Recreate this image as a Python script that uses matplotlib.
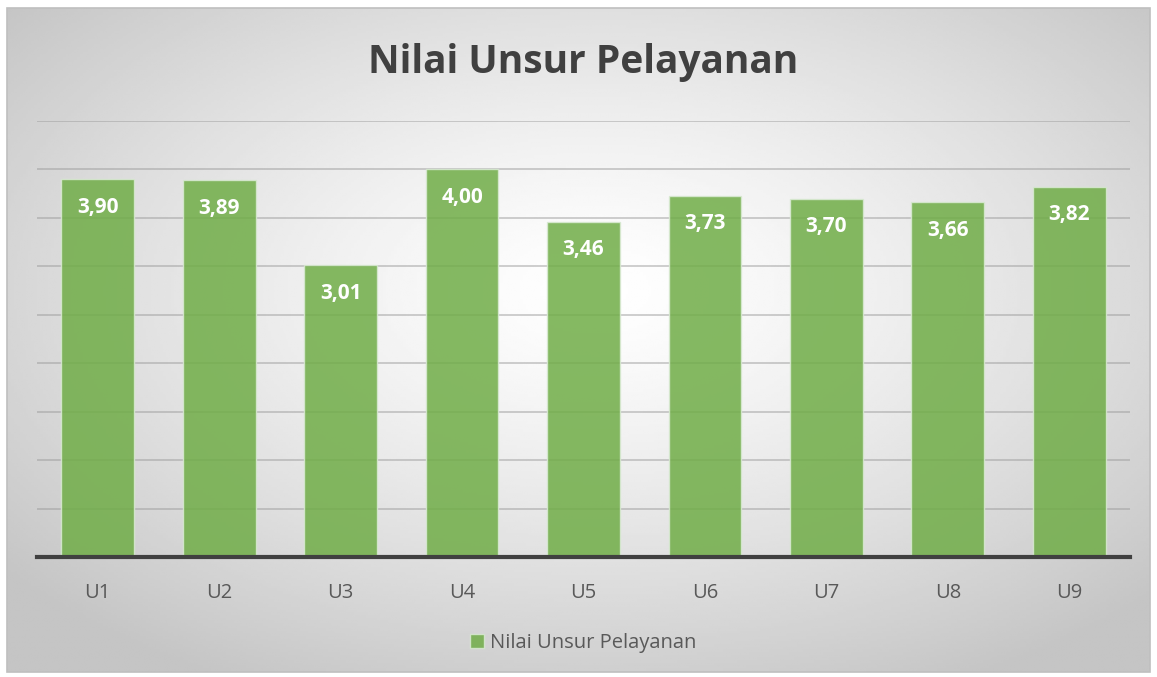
import numpy as np
import matplotlib
matplotlib.use("Agg")
import matplotlib.pyplot as plt
from matplotlib.patches import Rectangle

# data
categories = ["U1", "U2", "U3", "U4", "U5", "U6", "U7", "U8", "U9"]
values = [3.90, 3.89, 3.01, 4.00, 3.46, 3.73, 3.70, 3.66, 3.82]
series_name = "Nilai Unsur Pelayanan"

plt.rcParams["font.family"] = ["Open Sans", "DejaVu Sans"]

W, H = 1157, 677
fig = plt.figure(figsize=(W / 100, H / 100), dpi=100)
fig.patch.set_facecolor("white")

# radial gradient background inside the chart frame
x0, y0, x1, y1 = 7, 8, 1150, 672
bg = fig.add_axes([x0 / W, 1 - y1 / H, (x1 - x0) / W, (y1 - y0) / H], zorder=0)
gx, gy = np.meshgrid(np.linspace(-1, 1, 400), np.linspace(-1, 1, 250))
r = np.sqrt(((gx - 0.03) / 1.0) ** 2 + ((gy + 0.15) / 1.0) ** 2)
r = np.clip(r / 1.35, 0, 1)
shade = 1.0 - 0.23 * r ** 1.3
bg.imshow(shade, cmap="gray", vmin=0, vmax=1, aspect="auto", extent=[0, 1, 0, 1])
bg.set_axis_off()
fig.add_artist(Rectangle((x0 / W, 1 - y1 / H), (x1 - x0) / W, (y1 - y0) / H,
                         transform=fig.transFigure, fill=False,
                         edgecolor="#bfbfbf", linewidth=1.2, zorder=5))

ax = fig.add_axes([37 / W, 1 - 557 / H, (1130 - 37) / W, (557 - 121) / H], zorder=1)
ax.patch.set_alpha(0)

x = np.arange(len(categories))
bars = ax.bar(x, values, width=0.6, color="#70ad47", alpha=0.85,
              edgecolor="#d9ead3", linewidth=1.0, zorder=2, label=series_name)

for b, v in zip(bars, values):
    ax.text(b.get_x() + b.get_width() / 2, v - 0.29, f"{v:.2f}".replace(".", ","),
            ha="center", va="center", color="white", fontsize=15,
            fontweight="bold", zorder=3)

ax.set_xlim(-0.5, len(categories) - 0.5)
ax.set_ylim(0, 4.5)
ax.set_yticks(np.arange(0.5, 4.51, 0.5))
ax.yaxis.grid(True, color="#9a9a9a", alpha=0.6, linewidth=1.1, zorder=1)
ax.set_axisbelow(True)
ax.tick_params(axis="y", left=False, labelleft=False)
ax.set_xticks(x)
ax.set_xticklabels(categories, fontsize=14.5, color="#595959")
ax.tick_params(axis="x", length=0, pad=19)
for s in ["top", "right", "left"]:
    ax.spines[s].set_visible(False)
ax.spines["bottom"].set_color("#404040")
ax.spines["bottom"].set_linewidth(3)
ax.spines["bottom"].set_zorder(4)

fig.text(0.504, 1 - 62 / H, "Nilai Unsur Pelayanan", ha="center", va="center",
         fontsize=28, fontweight="bold", color="#404040")

fig.legend(handles=[bars], labels=[series_name], loc="center",
           bbox_to_anchor=(0.504, 1 - 643 / H), frameon=False, fontsize=14.5,
           handlelength=0.7, handleheight=0.7, handletextpad=0.3,
           labelcolor="#595959")

fig.savefig("out.png", dpi=100)
